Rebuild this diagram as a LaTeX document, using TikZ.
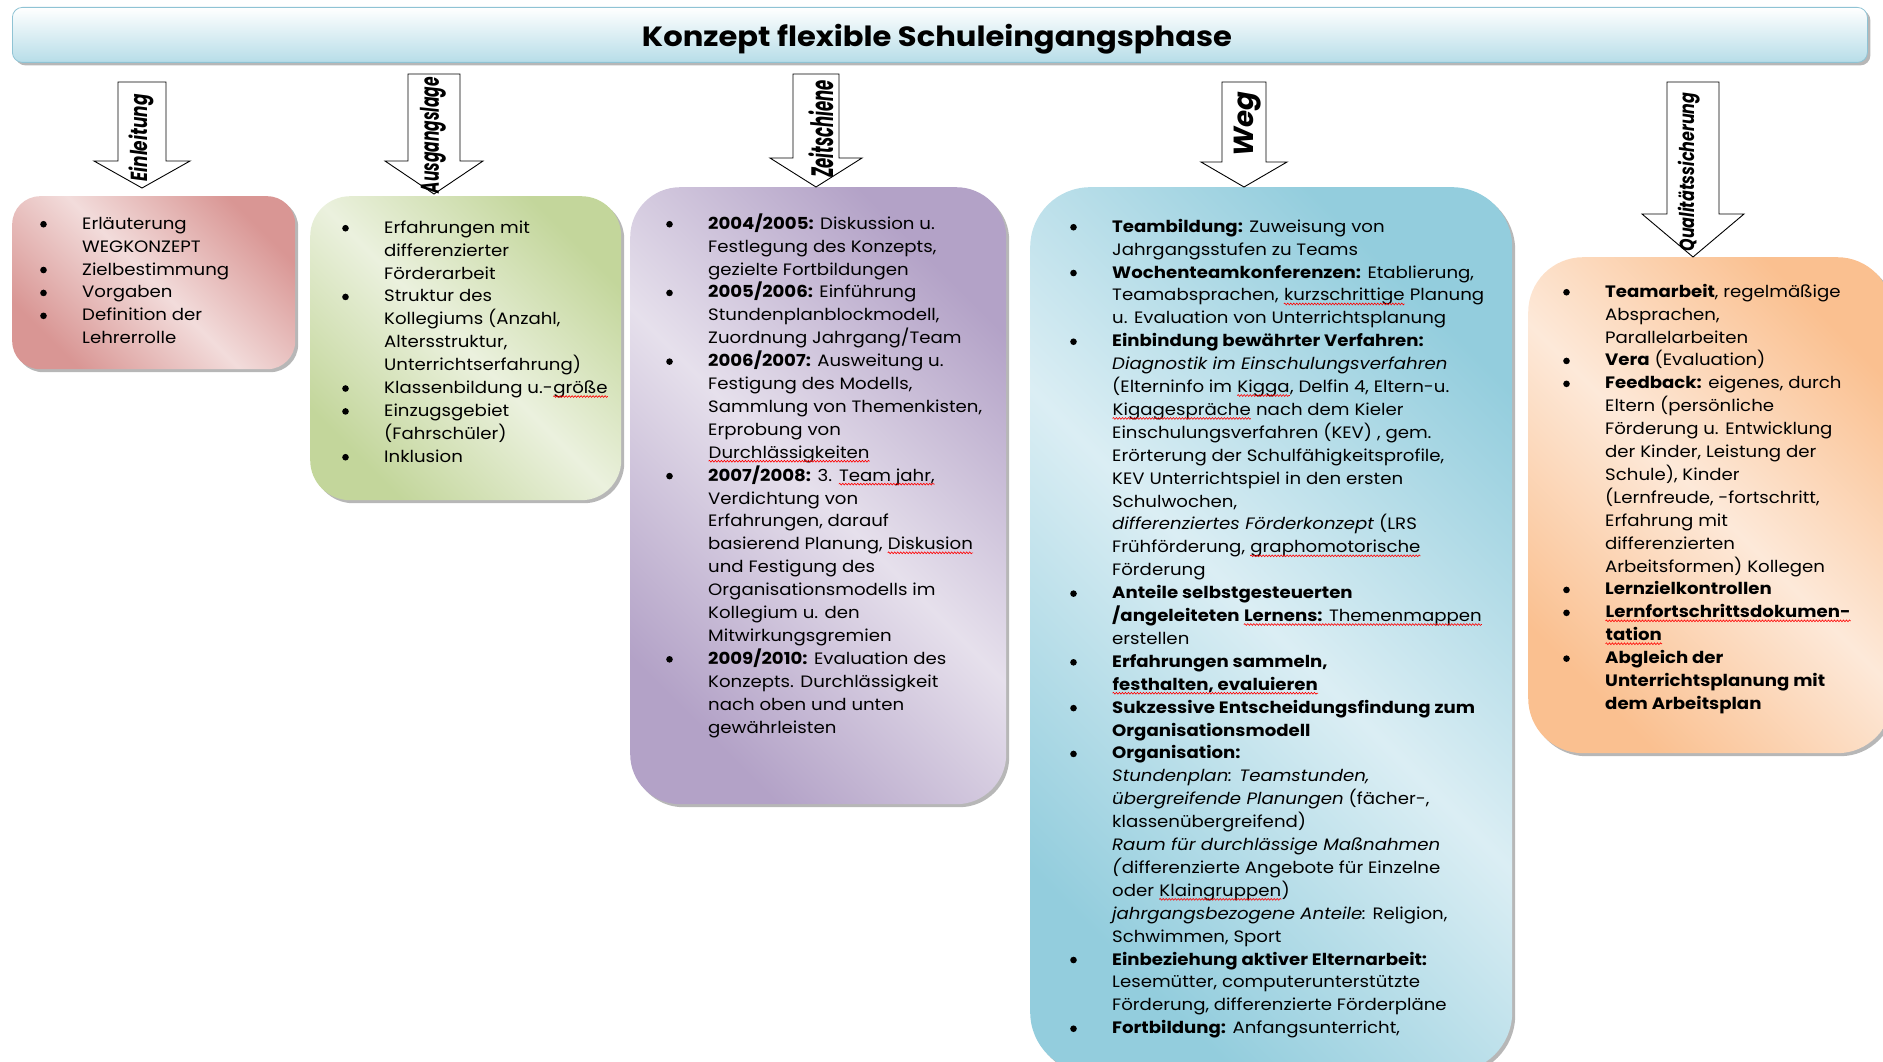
\documentclass[tikz,border=0pt]{standalone}
\usepackage{fontspec}
\setmainfont{Poppins}[FakeStretch=1.1]
\usepackage{graphicx}
\usetikzlibrary{calc,shadows,decorations.pathmorphing}
\definecolor{barlo}{HTML}{B7DDE8}
\definecolor{barln}{HTML}{8FC3D4}
\definecolor{rdk}{HTML}{D99694}\definecolor{rlt}{HTML}{F2DCDB}
\definecolor{gdk}{HTML}{C3D69B}\definecolor{glt}{HTML}{EBF1DE}
\definecolor{pdk}{HTML}{B3A2C7}\definecolor{plt}{HTML}{E6E0EC}
\definecolor{bdk}{HTML}{93CDDD}\definecolor{blt}{HTML}{DBEEF4}
\definecolor{odk}{HTML}{FAC090}\definecolor{olt}{HTML}{FDE9D9}
\newcommand{\bl}{\tikz[baseline=-5pt]\fill (3.3pt,0pt) circle (3.3pt);}
\newcommand{\sq}[1]{\tikz[baseline=(w.base)]{\node[inner sep=0pt] (w) {#1};
  \draw[red,line width=.6pt,decorate,decoration={snake,amplitude=.9pt,segment length=3pt}]
    ($(w.base west)+(0pt,-3pt)$) -- ($(w.base east)+(0pt,-3pt)$);}}
\newcommand{\bw}{42pt}

\begin{document}
\begin{tikzpicture}[x=1pt,y=-1pt,
  box/.style={rounded corners=#1,anchor=north west,
    drop shadow={shadow xshift=3pt,shadow yshift=-3pt,fill=black!40,opacity=.7}},
  fillsh/.style 2 args={left color=#1,right color=#1,middle color=#2,shading angle=135},
  txt/.style={anchor=north west,inner sep=0pt,font=\fontsize{16.5}{22.9}\selectfont},
  blockarr/.style={draw=black,fill=white,line width=.9pt,line join=miter}]
\useasboundingbox (0,0) rectangle (1883,1062);
%
\node[box=10pt,top color=white,bottom color=barlo,draw=barln,line width=.8pt,
      minimum width=1855pt,minimum height=55pt] (title) at (12,7) {};
\node[inner sep=0pt,anchor=base] (titletext) at (937,47)
  {\resizebox{590pt}{!}{\bfseries Konzept flexible Schuleingangsphase}};
%
\node[box=28pt,fillsh={rdk}{rlt},minimum width=283pt,minimum height=173pt] (einl) at (12,196) {};
\node[box=40pt,fillsh={gdk}{glt},minimum width=311pt,minimum height=304pt] (ausg) at (310,196) {};
\node[box=50pt,fillsh={pdk}{plt},minimum width=376pt,minimum height=617pt] (zeit) at (630,187) {};
\node[box=60pt,fillsh={bdk}{blt},minimum width=482pt,minimum height=885pt] (weg)  at (1030,187) {};
\node[box=55pt,fillsh={odk}{olt},minimum width=364pt,minimum height=496pt] (qual) at (1528,257) {};
%
\foreach \nm/\x/\tp/\hb/\sw/\hw/\tip/\lab/\len/\thk/\lx/\ly in
  {einl/142/82/161/24/48/188/Einleitung/87/25/141/138,
   ausg/434/74/161/26/49/194/Ausgangslage/116/26/433/135,
   zeit/816/74/158/23/46/187/Zeitschiene/98/25/821/129,
   weg/1244/82/162/22/43/187/Weg/65/27/1248/124,
   qual/1693/82/214/26/51/257/Qualitätssicherung/159/22/1689/172}
{
  \draw[blockarr] (\x-\sw,\tp) -- (\x+\sw,\tp) -- (\x+\sw,\hb) -- (\x+\hw,\hb)
    -- (\x,\tip) -- (\x-\hw,\hb) -- (\x-\sw,\hb) -- cycle;
  \node[rotate=90,inner sep=0pt] (\nm arr) at (\lx,\ly)
    {\resizebox*{\len pt}{\thk pt}{\bfseries\itshape \lab}};
}
%
\node[txt] (einltext) at (40,213) {\begin{tabular}{@{}p{\bw}@{}l@{}}
\bl & Erläuterung\\
    & WEGKONZEPT\\
\bl & Zielbestimmung\\
\bl & Vorgaben\\
\bl & Definition der\\
    & Lehrerrolle
\end{tabular}};
%
\node[txt] (ausgtext) at (342,217) {\begin{tabular}{@{}p{\bw}@{}l@{}}
\bl & Erfahrungen mit\\
    & differenzierter\\
    & Förderarbeit\\
\bl & Struktur des\\
    & Kollegiums (Anzahl,\\
    & Altersstruktur,\\
    & Unterrichtserfahrung)\\
\bl & Klassenbildung u.-\sq{größe}\\
\bl & Einzugsgebiet\\
    & (Fahrschüler)\\
\bl & Inklusion
\end{tabular}};
%
\node[txt] (zeittext) at (666,213) {\begin{tabular}{@{}p{\bw}@{}l@{}}
\bl & \textbf{2004/2005:} Diskussion u.\\
    & Festlegung des Konzepts,\\
    & gezielte Fortbildungen\\
\bl & \textbf{2005/2006:} Einführung\\
    & Stundenplanblockmodell,\\
    & Zuordnung Jahrgang/Team\\
\bl & \textbf{2006/2007:} Ausweitung u.\\
    & Festigung des Modells,\\
    & Sammlung von Themenkisten,\\
    & Erprobung von\\
    & \sq{Durchlässigkeiten}\\
\bl & \textbf{2007/2008:} 3. \sq{Team jahr,}\\
    & Verdichtung von\\
    & Erfahrungen, darauf\\
    & basierend Planung, \sq{Diskusion}\\
    & und Festigung des\\
    & Organisationsmodells im\\
    & Kollegium u. den\\
    & Mitwirkungsgremien\\
\bl & \textbf{2009/2010:} Evaluation des\\
    & Konzepts. Durchlässigkeit\\
    & nach oben und unten\\
    & gewährleisten
\end{tabular}};
%
\node[txt] (wegtext) at (1070,216) {\begin{tabular}{@{}p{\bw}@{}l@{}}
\bl & \textbf{Teambildung:} Zuweisung von\\
    & Jahrgangsstufen zu Teams\\
\bl & \textbf{Wochenteamkonferenzen:} Etablierung,\\
    & Teamabsprachen, \sq{kurzschrittige} Planung\\
    & u. Evaluation von Unterrichtsplanung\\
\bl & \textbf{Einbindung bewährter Verfahren:}\\
    & \textit{Diagnostik im Einschulungsverfahren}\\
    & (Elterninfo im \sq{Kigga}, Delfin 4, Eltern-u.\\
    & \sq{Kigagespräche} nach dem Kieler\\
    & Einschulungsverfahren (KEV) , gem.\\
    & Erörterung der Schulfähigkeitsprofile,\\
    & KEV Unterrichtspiel in den ersten\\
    & Schulwochen,\\
    & \textit{differenziertes Förderkonzept} (LRS\\
    & Frühförderung, \sq{graphomotorische}\\
    & Förderung\\
\bl & \textbf{Anteile selbstgesteuerten}\\
    & \textbf{/angeleiteten }\sq{\textbf{Lernens:} Themenmappen}\\
    & erstellen\\
\bl & \textbf{Erfahrungen sammeln,}\\
    & \sq{\textbf{festhalten, evaluieren}}\\
\bl & \textbf{Sukzessive Entscheidungsfindung zum}\\
    & \textbf{Organisationsmodell}\\
\bl & \textbf{Organisation:}\\
    & \textit{Stundenplan: Teamstunden,}\\
    & \textit{übergreifende Planungen} (fächer-,\\
    & klassenübergreifend)\\
    & \textit{Raum für durchlässige Maßnahmen}\\
    & \textit{(}differenzierte Angebote für Einzelne\\
    & oder \sq{Klaingruppen})\\
    & \textit{jahrgangsbezogene Anteile:} Religion,\\
    & Schwimmen, Sport\\
\bl & \textbf{Einbeziehung aktiver Elternarbeit:}\\
    & Lesemütter, computerunterstützte\\
    & Förderung, differenzierte Förderpläne\\
\bl & \textbf{Fortbildung:} Anfangsunterricht,
\end{tabular}};
%
\node[txt] (qualtext) at (1563,281) {\begin{tabular}{@{}p{\bw}@{}l@{}}
\bl & \textbf{Teamarbeit}, regelmäßige\\
    & Absprachen,\\
    & Parallelarbeiten\\
\bl & \textbf{Vera} (Evaluation)\\
\bl & \textbf{Feedback:} eigenes, durch\\
    & Eltern (persönliche\\
    & Förderung u. Entwicklung\\
    & der Kinder, Leistung der\\
    & Schule), Kinder\\
    & (Lernfreude, -fortschritt,\\
    & Erfahrung mit\\
    & differenzierten\\
    & Arbeitsformen) Kollegen\\
\bl & \textbf{Lernzielkontrollen}\\
\bl & \sq{\textbf{Lernfortschrittsdokumen-}}\\
    & \sq{\textbf{tation}}\\
\bl & \textbf{Abgleich der}\\
    & \textbf{Unterrichtsplanung mit}\\
    & \textbf{dem Arbeitsplan}
\end{tabular}};
\end{tikzpicture}
\end{document}
